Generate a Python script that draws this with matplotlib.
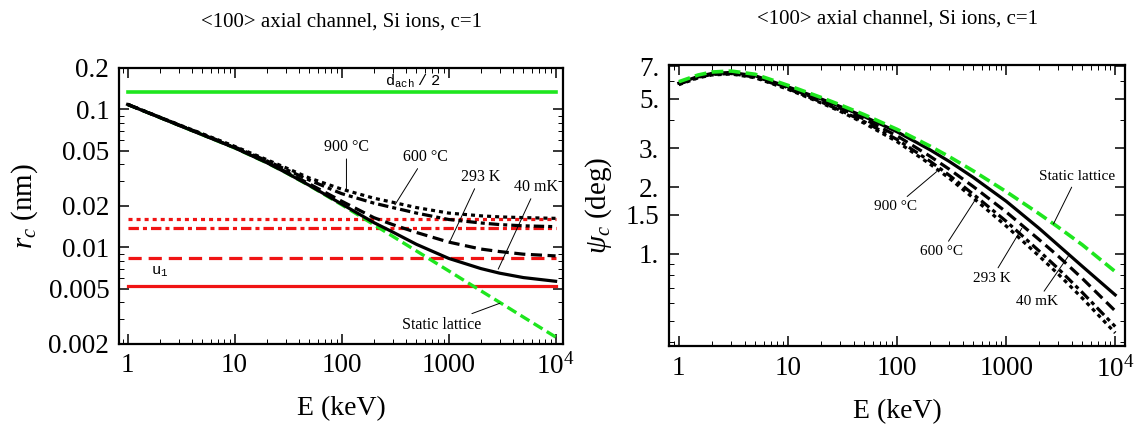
import matplotlib
matplotlib.use("Agg")
import matplotlib.pyplot as plt
from matplotlib.ticker import FixedLocator, FixedFormatter, LogLocator, NullFormatter

plt.rcParams['font.family'] = ['Liberation Serif', 'DejaVu Serif']
plt.rcParams['mathtext.fontset'] = 'custom'
plt.rcParams['mathtext.rm'] = 'Liberation Serif'
plt.rcParams['mathtext.it'] = 'Liberation Serif:italic'
plt.rcParams['mathtext.bf'] = 'Liberation Serif:bold'
plt.rcParams['mathtext.tt'] = 'Liberation Mono'
plt.rcParams['lines.scale_dashes'] = False

# energies (keV)
energy = [1, 1.5, 2, 3, 5, 10, 20, 30, 50, 100, 200, 300, 500, 1000, 2000, 3000, 5000, 10000]

# left panel: critical distance r_c (nm)
rc_static = [0.1087, 0.0957, 0.0874, 0.0769, 0.0655, 0.0526, 0.0410, 0.03486, 0.0280, 0.02035,
             0.01459, 0.01201, 0.0094, 0.00674, 0.00483, 0.00398, 0.00311, 0.00223]
rc_40mK = [0.1087, 0.0957, 0.0874, 0.0769, 0.0655, 0.0527, 0.0411, 0.0349, 0.0281, 0.0206,
           0.0151, 0.0129, 0.0105, 0.0083, 0.0070, 0.00648, 0.00602, 0.00566]
rc_293K = [0.1088, 0.0958, 0.0875, 0.0770, 0.0657, 0.0529, 0.0414, 0.0354, 0.0288, 0.0216,
           0.0164, 0.0146, 0.0128, 0.0109, 0.0097, 0.0093, 0.0089, 0.00865]
rc_600C = [0.1090, 0.0960, 0.0878, 0.0774, 0.0662, 0.0535, 0.0424, 0.0368, 0.0307, 0.0245,
           0.0209, 0.0194, 0.0177, 0.0159, 0.0150, 0.0146, 0.0143, 0.0141]
rc_900C = [0.1091, 0.0961, 0.0880, 0.0777, 0.0666, 0.0540, 0.0432, 0.0378, 0.0318, 0.0264,
           0.0227, 0.0212, 0.0194, 0.0177, 0.0169, 0.0166, 0.0164, 0.0162]

# reference levels (nm)
d_ach_half = 0.134
u1_900C = 0.0160
u1_600C = 0.0139
u1_293K = 0.0083
u1_40mK = 0.0052

# right panel: critical angle psi_c (deg)
psi_static = [5.97, 6.4, 6.6, 6.67, 6.45, 5.75, 5.077, 4.70, 4.243, 3.643, 3.064, 2.746, 2.367,
              1.91, 1.519, 1.321, 1.099, 0.833]
psi_40mK = [5.88, 6.30, 6.50, 6.57, 6.35, 5.66, 5.00, 4.62, 4.158, 3.552, 2.948, 2.614, 2.213,
            1.729, 1.306, 1.096, 0.879, 0.654]
psi_293K = [5.85, 6.27, 6.47, 6.54, 6.31, 5.61, 4.925, 4.536, 4.052, 3.406, 2.758, 2.411, 2.012,
            1.547, 1.162, 0.978, 0.775, 0.554]
psi_600C = [5.82, 6.24, 6.435, 6.50, 6.26, 5.55, 4.848, 4.442, 3.946, 3.279, 2.62, 2.265, 1.858,
            1.404, 1.033, 0.859, 0.670, 0.471]
psi_900C = [5.79, 6.21, 6.40, 6.47, 6.22, 5.52, 4.798, 4.395, 3.882, 3.206, 2.543, 2.197, 1.787,
            1.337, 0.980, 0.812, 0.632, 0.441]

title = '<100> axial channel, Si ions, c=1'
x_ticks = [1, 10, 100, 1000, 10000]
x_labels = ['1', '10', '100', '1000', '$10^4$']
rc_ticks = [0.002, 0.005, 0.01, 0.02, 0.05, 0.1, 0.2]
rc_labels = ['0.002', '0.005', '0.01', '0.02', '0.05', '0.1', '0.2']
psi_ticks = [1, 1.5, 2, 3, 5, 7]
psi_labels = ['1.', '1.5', '2.', '3.', '5.', '7.']

GREEN = '#1ee61e'
RED = '#f01414'
DOT = (0, (2.9, 2.9))
DASHDOT = (0, (7.5, 2.9, 2.9, 2.9))
DASH = (0, (8, 4))

fig = plt.figure(figsize=(11.38, 4.29), dpi=100)
ax1 = fig.add_axes([0.1046, 0.1993, 0.3902, 0.6422])
ax2 = fig.add_axes([0.5879, 0.1935, 0.4007, 0.6550])


def style_axes(ax, yticks, ylabels):
    ax.set_xscale('log')
    ax.set_yscale('log')
    ax.xaxis.set_major_locator(FixedLocator(x_ticks))
    ax.xaxis.set_major_formatter(FixedFormatter(x_labels))
    ax.xaxis.set_minor_locator(LogLocator(base=10, subs=range(2, 10), numticks=20))
    ax.xaxis.set_minor_formatter(NullFormatter())
    ax.yaxis.set_major_locator(FixedLocator(yticks))
    ax.yaxis.set_major_formatter(FixedFormatter(ylabels))
    ax.yaxis.set_minor_locator(LogLocator(base=10, subs=range(2, 10), numticks=20))
    ax.yaxis.set_minor_formatter(NullFormatter())
    ax.tick_params(which='both', direction='in', top=True, right=True, labelsize=19.5)
    ax.tick_params(which='major', length=7, width=1.1, pad=7)
    ax.tick_params(which='minor', length=3.5, width=0.7)
    for s in ax.spines.values():
        s.set_linewidth(1.6)
    ax.set_xlabel('E (keV)', fontsize=20, labelpad=12)
    ax.set_title(title, fontsize=15, pad=30)


# ---- left panel ----
lw = 2.3
e0, e1 = energy[0], energy[-1]
ax1.plot([e0, e1], [d_ach_half] * 2, color=GREEN, lw=2.6, zorder=2)
ax1.plot([e0, e1], [u1_900C] * 2, color=RED, lw=lw, ls=DOT, zorder=2)
ax1.plot([e0, e1], [u1_600C] * 2, color=RED, lw=lw, ls=DASHDOT, zorder=2)
ax1.plot([e0, e1], [u1_293K] * 2, color=RED, lw=lw, ls=(0, (9.5, 5)), zorder=2)
ax1.plot([e0, e1], [u1_40mK] * 2, color=RED, lw=lw, zorder=2)

ax1.plot(energy, rc_static, color=GREEN, lw=2.4, ls=(0, (7.5, 3.6)), zorder=3)
ax1.plot(energy, rc_900C, color='black', lw=lw, ls=DOT, zorder=4)
ax1.plot(energy, rc_600C, color='black', lw=lw, ls=DASHDOT, zorder=4)
ax1.plot(energy, rc_293K, color='black', lw=lw, ls=DASH, zorder=4)
ax1.plot(energy, rc_40mK, color='black', lw=lw, zorder=5)

ax1.set_xlim(10 ** -0.08, 10 ** 4.07)
ax1.set_ylim(0.002, 0.2)
style_axes(ax1, rc_ticks, rc_labels)
ax1.set_ylabel('$r_c$ (nm)', fontsize=21, labelpad=6)

ax1.text(464, 0.161, r'$\mathtt{d_{ach}\ /\ 2}$', fontsize=11, ha='center', va='center')
ax1.text(2.0, 0.0066, r'$\mathtt{u_1}$', fontsize=11, ha='center', va='center')

arrow = dict(arrowstyle='-', lw=0.7, color='black', shrinkA=1, shrinkB=0)
lab_fs = 11.5
ax1.annotate('900 °C', xy=(111, 0.026), xytext=(111, 0.0536), ha='center', va='center',
             fontsize=lab_fs, arrowprops=arrow, zorder=6)
ax1.annotate('600 °C', xy=(315, 0.0203), xytext=(603, 0.0454), ha='center', va='center',
             fontsize=lab_fs, arrowprops=arrow, zorder=6)
ax1.annotate('293 K', xy=(1028, 0.011), xytext=(1977, 0.0325), ha='center', va='center',
             fontsize=lab_fs, arrowprops=arrow, zorder=6)
ax1.annotate('40 mK', xy=(2910, 0.00693), xytext=(6620, 0.0275), ha='center', va='center',
             fontsize=lab_fs, arrowprops=arrow, zorder=6)
ax1.annotate('Static lattice', xy=(3015, 0.00392), xytext=(860, 0.00273), ha='center',
             va='center', fontsize=lab_fs, arrowprops=arrow, zorder=6)

# ---- right panel ----
ax2.plot(energy, psi_900C, color='black', lw=lw, ls=DOT, zorder=3)
ax2.plot(energy, psi_600C, color='black', lw=lw, ls=DASHDOT, zorder=3)
ax2.plot(energy, psi_293K, color='black', lw=lw, ls=DASH, zorder=3)
ax2.plot(energy, psi_40mK, color='black', lw=lw, zorder=3)
ax2.plot(energy, psi_static, color=GREEN, lw=2.6, ls=(0, (8.5, 3.8)), zorder=4)

ax2.set_xlim(10 ** -0.09, 10 ** 4.09)
ax2.set_ylim(0.385, 7.1)
style_axes(ax2, psi_ticks, psi_labels)
ax2.set_ylabel(r'$\psi_c$ (deg)', fontsize=21, labelpad=8)

ax2.annotate('Static lattice', xy=(2716, 1.365), xytext=(4454, 2.23), ha='center',
             va='center', fontsize=11, arrowprops=arrow, zorder=6)
ax2.annotate('900 °C', xy=(231, 2.35), xytext=(96, 1.633), ha='center', va='center',
             fontsize=11, arrowprops=arrow, zorder=6)
ax2.annotate('600 °C', xy=(520, 1.75), xytext=(257, 1.024), ha='center', va='center',
             fontsize=11, arrowprops=arrow, zorder=6)
ax2.annotate('293 K', xy=(1393, 1.305), xytext=(739, 0.777), ha='center', va='center',
             fontsize=11, arrowprops=arrow, zorder=6)
ax2.annotate('40 mK', xy=(3730, 0.98), xytext=(1914, 0.61), ha='center', va='center',
             fontsize=11, arrowprops=arrow, zorder=6)

fig.savefig('out.png', dpi=100)
